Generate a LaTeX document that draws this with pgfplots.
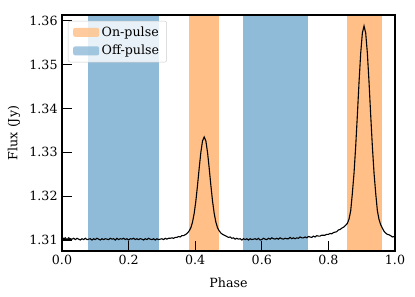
\documentclass[border=0pt]{standalone}
\usepackage{fontspec}
\setmainfont{DejaVu Serif}
\usepackage{pgfplots}
\pgfplotsset{compat=1.18}
\definecolor{onc}{RGB}{255,191,134}
\definecolor{offc}{RGB}{143,187,217}
\pgfplotstableread{
x y
0.000 1.3106
0.005 1.3103
0.010 1.3105
0.015 1.3101
0.020 1.3105
0.025 1.3103
0.030 1.3102
0.035 1.3104
0.040 1.3101
0.045 1.3104
0.050 1.3102
0.055 1.3100
0.060 1.3103
0.065 1.3101
0.070 1.3104
0.075 1.3101
0.080 1.3102
0.085 1.3103
0.090 1.3100
0.095 1.3103
0.100 1.3101
0.105 1.3104
0.110 1.3102
0.115 1.3100
0.120 1.3103
0.125 1.3101
0.130 1.3103
0.135 1.3102
0.140 1.3101
0.145 1.3104
0.150 1.3102
0.155 1.3103
0.160 1.3100
0.165 1.3104
0.170 1.3101
0.175 1.3103
0.180 1.3102
0.185 1.3104
0.190 1.3101
0.195 1.3103
0.200 1.3100
0.205 1.3103
0.210 1.3102
0.215 1.3104
0.220 1.3101
0.225 1.3103
0.230 1.3101
0.235 1.3103
0.240 1.3102
0.245 1.3100
0.250 1.3103
0.255 1.3101
0.260 1.3104
0.265 1.3102
0.270 1.3101
0.275 1.3103
0.280 1.3100
0.285 1.3103
0.290 1.3101
0.295 1.3102
0.300 1.3103
0.305 1.3101
0.310 1.3104
0.315 1.3102
0.320 1.3104
0.325 1.3104
0.330 1.3105
0.335 1.3104
0.340 1.3106
0.345 1.3106
0.350 1.3108
0.355 1.3107
0.360 1.3110
0.365 1.3110
0.372 1.3113
0.377 1.3116
0.382 1.3121
0.387 1.3128
0.392 1.3141
0.397 1.3161
0.402 1.3189
0.407 1.3225
0.412 1.3264
0.417 1.3300
0.422 1.3326
0.427 1.3335
0.432 1.3326
0.437 1.3300
0.442 1.3264
0.447 1.3225
0.452 1.3189
0.457 1.3161
0.462 1.3141
0.467 1.3128
0.472 1.3121
0.477 1.3116
0.482 1.3113
0.490 1.3110
0.495 1.3108
0.500 1.3106
0.505 1.3107
0.510 1.3104
0.515 1.3105
0.520 1.3102
0.525 1.3104
0.530 1.3102
0.535 1.3103
0.540 1.3100
0.545 1.3103
0.550 1.3101
0.555 1.3103
0.560 1.3100
0.565 1.3103
0.570 1.3101
0.575 1.3102
0.580 1.3103
0.585 1.3101
0.590 1.3104
0.595 1.3100
0.600 1.3101
0.605 1.3104
0.610 1.3102
0.615 1.3101
0.620 1.3104
0.625 1.3102
0.630 1.3105
0.635 1.3103
0.640 1.3102
0.645 1.3104
0.650 1.3102
0.655 1.3105
0.660 1.3103
0.665 1.3102
0.670 1.3104
0.675 1.3103
0.680 1.3103
0.685 1.3106
0.690 1.3103
0.695 1.3105
0.700 1.3103
0.705 1.3105
0.710 1.3104
0.715 1.3107
0.720 1.3105
0.725 1.3105
0.730 1.3107
0.735 1.3105
0.740 1.3108
0.745 1.3107
0.750 1.3106
0.755 1.3109
0.760 1.3107
0.765 1.3110
0.770 1.3109
0.775 1.3109
0.780 1.3111
0.785 1.3111
0.790 1.3111
0.795 1.3113
0.800 1.3113
0.805 1.3115
0.810 1.3114
0.815 1.3117
0.820 1.3118
0.825 1.3119
0.830 1.3123
0.835 1.3124
0.840 1.3127
0.847 1.3130
0.852 1.3134
0.857 1.3138
0.862 1.3148
0.867 1.3167
0.872 1.3207
0.877 1.3253
0.882 1.3314
0.887 1.3385
0.892 1.3460
0.897 1.3526
0.902 1.3572
0.907 1.3588
0.912 1.3572
0.917 1.3526
0.922 1.3460
0.927 1.3385
0.932 1.3314
0.937 1.3253
0.942 1.3207
0.947 1.3167
0.952 1.3147
0.957 1.3135
0.962 1.3127
0.967 1.3120
0.972 1.3116
0.977 1.3113
0.982 1.3112
0.987 1.3110
0.992 1.3107
0.997 1.3108
1.000 1.3105
}\profile
\begin{document}
\fontsize{12.7}{15}\selectfont
\begin{tikzpicture}
\path[use as bounding box] (-62bp,-46bp) rectangle (353bp,251bp);
\begin{axis}[
  scale only axis, width=333bp, height=236bp,
  at={(0,0)}, anchor=south west,
  xmin=0, xmax=1, ymin=1.3075, ymax=1.3613,
  xtick={0,0.2,0.4,0.6,0.8,1},
  ytick={1.31,1.32,1.33,1.34,1.35,1.36},
  xticklabel style={/pgf/number format/.cd, fixed, fixed zerofill, precision=1},
  yticklabel style={/pgf/number format/.cd, fixed, fixed zerofill, precision=2},
  /pgf/number format/assume math mode=true,
  tick label style={font=\fontsize{12.7}{15}\selectfont},
  label style={font=\fontsize{12.7}{15}\selectfont},
  xtick pos=left, ytick pos=left,
  tick align=inside,
  major tick length=10bp,
  every tick/.style={black, line width=1.2bp},
  axis line style={black, line width=1.5bp},
  axis on top,
  xlabel={Phase}, ylabel={Flux (Jy)},
  xlabel style={at={(axis description cs:0.5,0)}, anchor=base, yshift=-36bp},
  ylabel style={at={(axis description cs:-0.134,0.5)}, anchor=base, rotate=0},
  legend style={at={(axis description cs:0.018,0.975)}, anchor=north west,
    draw=black!20, fill=white, fill opacity=0.8, text opacity=1,
    rounded corners=2bp,
    nodes={font=\fontsize{12.7}{15}\selectfont, inner sep=2.5bp},
    /tikz/every even column/.append style={column sep=3bp},
    row sep=2bp, inner xsep=5bp, inner ysep=3bp},
  legend cell align=left,
  legend image code/.code={\fill[#1] (0bp,-4.5bp) rectangle (26bp,4.5bp);},
]
\addplot[fill=onc, draw=none] coordinates {(0.381,1.30) (0.472,1.30) (0.472,1.37) (0.381,1.37)} -- cycle;
\addlegendentry{On-pulse}
\addplot[fill=offc, draw=none] coordinates {(0.078,1.30) (0.292,1.30) (0.292,1.37) (0.078,1.37)} -- cycle;
\addlegendentry{Off-pulse}
\addplot[fill=onc, draw=none, forget plot] coordinates {(0.856,1.30) (0.961,1.30) (0.961,1.37) (0.856,1.37)} -- cycle;
\addplot[fill=offc, draw=none, forget plot] coordinates {(0.545,1.30) (0.740,1.30) (0.740,1.37) (0.545,1.37)} -- cycle;
\addplot[black, line width=1.1bp, forget plot] table[x=x, y=y] {\profile};
\end{axis}
\end{tikzpicture}
\end{document}
